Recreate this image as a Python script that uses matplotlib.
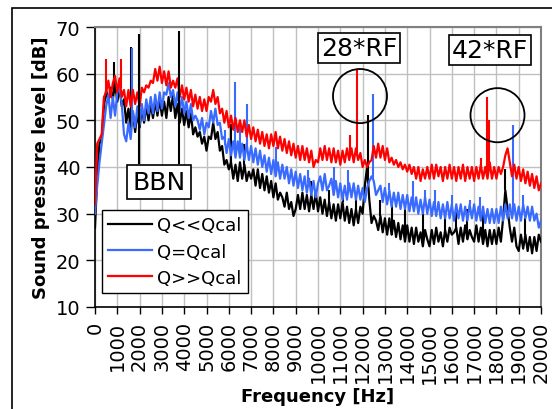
import numpy as np
import matplotlib
matplotlib.use("Agg")
import matplotlib.pyplot as plt
from matplotlib.patches import Ellipse, Rectangle

# spectra, one value every 100 Hz (0 ... 20000 Hz)
freq = np.arange(0, 20001, 100)

q_low = [
    27, 38, 45, 46, 53, 56.5, 54, 57, 54.5, 58,            # 0
    54, 57, 53, 54.5, 49.5, 52.5, 48, 51.5, 47.5, 51.5,    # 1000
    48.5, 52.5, 49.5, 53, 50, 53.5, 50.5, 54, 51, 54.5,    # 2000
    51, 54, 50.5, 55, 52, 55.5, 50.5, 53.5, 49.5, 52.5,    # 3000
    49, 52, 48.5, 51.5, 47, 48.5, 46.5, 47.5, 45, 46.5,    # 4000
    43.5, 46.5, 46, 49.5, 46, 47.5, 43.5, 44.5, 40.5, 41.5,  # 5000
    39.5, 41, 37.5, 40.5, 37, 41, 37.5, 40.5, 37, 39,      # 6000
    37.5, 39.5, 36, 39.5, 35.5, 38.5, 35, 38, 34.5, 37,    # 7000
    33.5, 36.5, 33, 34.5, 33.5, 31.5, 34.5, 31, 32.5, 29.5,  # 8000
    31, 34, 31, 34.5, 31, 34, 30.5, 34, 31, 34.5,          # 9000
    30.5, 33.5, 30, 33, 29.5, 32.5, 29, 32, 28.5, 32,      # 10000
    29, 32.5, 28.5, 31.5, 28, 31, 27.5, 31, 28, 31.5,      # 11000
    30, 36, 40, 33, 28, 29.5, 28.5, 26.5, 29.5, 26,        # 12000
    29, 25.5, 29, 25.5, 28.5, 25, 28, 24.5, 27.5, 24,      # 13000
    27.5, 24, 27, 23.5, 27, 24, 26, 23, 26.5, 24.5,        # 14000
    23, 26.5, 23.5, 27, 24, 26, 23, 26.5, 24, 27,          # 15000
    25.5, 26, 27, 23.5, 27, 24, 27.5, 24.5, 26.5, 25,      # 16000
    24, 27.5, 24, 27, 23.5, 26.5, 23, 26.5, 23.5, 26.5,    # 17000
    23.5, 27, 24, 29, 35, 31, 27, 24, 27, 23,              # 18000
    22, 25.5, 22.5, 25.5, 22, 25, 21.5, 25, 22, 25.5,      # 19000
    24]

q_cal = [
    30, 36, 41, 45, 49, 53, 55.5, 50.5, 55, 51,            # 0
    56, 57, 53.5, 47, 45.5, 49.5, 46, 52, 48.5, 53,        # 1000
    49, 53.5, 50, 54.5, 51.5, 55, 51.5, 55.5, 52, 56,      # 2000
    52.5, 56, 55.5, 58, 55, 56.5, 53, 56, 52, 55,          # 3000
    51.5, 54, 50.5, 53.5, 50, 51, 50, 48, 50.5, 47,        # 4000
    49.5, 48.5, 52, 49.5, 52.5, 49, 49.5, 46, 46.5, 43,    # 5000
    46, 42.5, 45.5, 42, 45.5, 42, 45, 41.5, 45, 41.5,      # 6000
    44.5, 41, 44, 40.5, 43.5, 40, 42.5, 39, 42, 38.5,      # 7000
    41.5, 38, 41, 37.5, 40.5, 37.5, 40, 36.5, 39.5, 36,    # 8000
    39, 35.5, 38.5, 35, 38, 34.5, 37.5, 34, 37, 33.5,      # 9000
    36.5, 38, 35, 38.5, 35, 36, 37.5, 34, 37, 33.5,        # 10000
    36.5, 33, 36, 33, 36.5, 33.5, 36.5, 33, 36, 33,        # 11000
    35.5, 32.5, 35.5, 37, 38, 37, 34, 35, 36, 32.5,        # 12000
    35.5, 32, 35, 31.5, 34.5, 31.5, 34.5, 31, 34, 31,      # 13000
    34, 30.5, 33.5, 30.5, 33.5, 30, 33, 30, 33.5, 30,      # 14000
    33, 29.5, 32.5, 29.5, 32.5, 29, 32, 29, 32.5, 29,      # 15000
    32, 28.5, 32, 29, 32, 28.5, 31.5, 28.5, 32, 29,        # 16000
    32, 28.5, 31.5, 28.5, 31.5, 28, 31, 28, 31, 28,        # 17000
    31, 28, 31.5, 28.5, 32, 29, 32, 29, 32, 28.5,          # 18000
    31.5, 28.5, 32, 29, 31.5, 28.5, 31.5, 28.5, 30, 27,    # 19000
    28.5]

q_high = [
    32, 45, 46, 47, 55, 56, 58.5, 55, 58, 59.5,            # 0
    56, 59, 55, 56.5, 53, 56.5, 53, 56.5, 53.5, 56,        # 1000
    53, 57, 56, 57.5, 57, 58.5, 58, 61, 58.5, 61.5,        # 2000
    58, 60.5, 57.5, 60.5, 57, 58.5, 57, 59, 55, 57.5,      # 3000
    54.5, 57, 54, 56.5, 53, 55.5, 52.5, 55, 52, 54.5,      # 4000
    52, 55, 54, 56.5, 53.5, 55, 51.5, 52.5, 49.5, 52,      # 5000
    48.5, 51, 48, 50.5, 47.5, 50, 47.5, 50, 46.5, 49,      # 6000
    46, 48.5, 45.5, 48, 45, 47.5, 44.5, 47, 44, 47,        # 7000
    44.5, 47.5, 44, 46.5, 43.5, 46, 43, 45.5, 42.5, 45,    # 8000
    42, 44.5, 41.5, 44.5, 41.5, 44, 41, 43.5, 40, 41.5,    # 9000
    41, 44, 41.5, 44.5, 41.5, 44, 41, 44, 41, 43.5,        # 10000
    40.5, 43.5, 41, 44, 41.5, 44, 41, 44, 41.5, 43,        # 11000
    40, 41.5, 40, 41, 41.5, 44.5, 42, 45, 42, 44.5,        # 12000
    41.5, 44, 41, 42, 40.5, 41.5, 40, 41, 39.5, 40.5,      # 13000
    39, 40.5, 38.5, 40, 37.5, 40, 37, 39.5, 37.5, 40,      # 14000
    37.5, 40.5, 37.5, 40.5, 38, 40, 37, 40, 37.5, 40.5,    # 15000
    37.5, 40, 37, 40, 37.5, 40.5, 37, 40, 37.5, 40,        # 16000
    37, 40, 37.5, 40.5, 37.5, 40, 37.5, 41, 37.5, 40,      # 17000
    37.5, 40, 38.5, 40, 42.5, 44, 41, 38, 40.5, 37.5,      # 18000
    40, 37, 39.5, 36.5, 39, 36, 38.5, 35.5, 38, 35,        # 19000
    36.5]

# narrow tonal peaks: frequency and top level
low_pk_f = [840, 1620, 6100, 6700, 9700, 10500, 11100, 11700, 12230, 12800, 13300,
            13900, 14700, 15700, 16200, 16700, 17400, 18400, 19300]
low_pk_v = [62.5, 65.7, 49.3, 45, 37, 35, 34, 34, 51.1, 33, 32,
            31, 30.5, 30.5, 31, 31, 30.5, 39.5, 29]
cal_pk_f = [1660, 5850, 6280, 6480, 6830, 8100, 9570, 10700, 11350, 12470, 13200,
            14260, 14780, 15250, 16000, 16800, 17270, 18730, 19200]
cal_pk_v = [65.6, 48, 58.2, 48.5, 53.6, 44.3, 39.3, 40, 39.3, 55.7, 36.5,
            37, 35, 35, 34, 33, 33.6, 48.9, 34]
high_pk_f = [490, 1150, 5300, 11440, 11764, 17310, 17590, 17680]
high_pk_v = [63.2, 63.1, 56.5, 46.8, 60.9, 42, 55, 50]

# BBN marker lines
bbn_f = [1960, 3780]
bbn_top = [68.6, 69.1]
bbn_bottom = 40.7

black = '#000000'
blue = '#3a6bff'
red = '#ff0000'

fig = plt.figure(figsize=(5.52, 4.10), dpi=100)
ax = fig.add_axes([0.1721, 0.2488, 0.808, 0.6829])

series = [(q_low, low_pk_f, low_pk_v, black, 'Q<<Qcal'),
          (q_cal, cal_pk_f, cal_pk_v, blue, 'Q=Qcal'),
          (q_high, high_pk_f, high_pk_v, red, 'Q>>Qcal')]
for vals, pf, pv, col, lab in series:
    ax.plot(freq, vals, color=col, lw=1.6, label=lab, zorder=3)
    base = np.interp(pf, freq, vals)
    ax.vlines(pf, base, pv, color=col, lw=1.5, zorder=3)

ax.vlines(bbn_f, bbn_bottom, bbn_top, color='black', lw=1.5, zorder=4)

ax.set_xlim(0, 20000)
ax.set_ylim(10, 70)
ax.set_xticks(np.arange(0, 20001, 1000))
ax.set_yticks(np.arange(10, 71, 10))
ax.tick_params(axis='x', labelrotation=90, labelsize=14, length=5, width=1, pad=5)
ax.tick_params(axis='y', labelsize=14, length=6.5, width=1, pad=4)
ax.grid(True, color='#c0c0c0', lw=1)
ax.set_axisbelow(True)
for s in ['top', 'right']:
    ax.spines[s].set_color('#808080')
    ax.spines[s].set_linewidth(1.5)
for s in ['left', 'bottom']:
    ax.spines[s].set_linewidth(1.2)

ax.set_xlabel('Frequency [Hz]', fontsize=13, fontweight='bold', labelpad=3)
ax.set_ylabel('Sound pressure level [dB]', fontsize=13, fontweight='bold', labelpad=4)

box = dict(boxstyle='square,pad=0.2', fc='white', ec='black', lw=1.2)
ax.text(2870, 36.8, 'BBN', fontsize=18, ha='center', va='center', bbox=box, zorder=5)
box2 = dict(boxstyle='square,pad=0.12', fc='white', ec='black', lw=1.2)
ax.text(11840, 65.6, '28*RF', fontsize=18, ha='center', va='center', bbox=box2, zorder=5)
ax.text(17710, 65.0, '42*RF', fontsize=18, ha='center', va='center', bbox=box2, zorder=5)

ax.add_patch(Ellipse((11883, 55.2), 2422, 11.6, fill=False, ec='black', lw=1.3, zorder=5))
ax.add_patch(Ellipse((18049, 51.1), 2422, 11.6, fill=False, ec='black', lw=1.3, zorder=5))

leg = ax.legend(loc='lower left', bbox_to_anchor=(0.016, 0.05), borderaxespad=0,
                fontsize=13, handlelength=2.4, handletextpad=0.3, fancybox=False,
                edgecolor='black', framealpha=1, borderpad=0.35, labelspacing=0.45)
leg.get_frame().set_linewidth(1.0)
leg.set_zorder(6)

fig.add_artist(Rectangle((12 / 552, -0.1), 1.2, 1.1 - 9 / 410, transform=fig.transFigure,
                         fill=False, ec='black', lw=1.2))

fig.savefig('out.png', dpi=100)
